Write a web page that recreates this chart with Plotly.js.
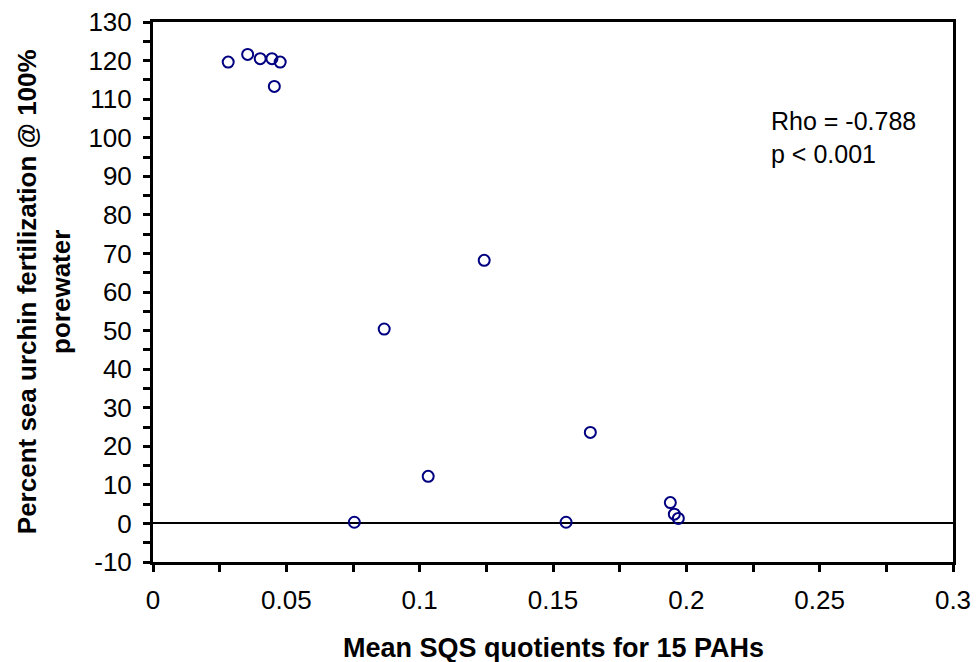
<!DOCTYPE html>
<html>
<head>
<meta charset="utf-8">
<script src="https://cdn.plot.ly/plotly-3.0.1.min.js"></script>
<style>html,body{margin:0;padding:0;background:#fff;}#chart{width:977px;height:662px;}</style>
</head>
<body>
<div id="chart"></div>
<script>
var sqsQuotient = [0.0282, 0.0355, 0.0402, 0.0446, 0.0477, 0.0455, 0.0867, 0.1242, 0.1032, 0.164, 0.0755, 0.1549, 0.194, 0.1955, 0.197];
var fertilization = [119.6, 121.6, 120.5, 120.5, 119.6, 113.3, 50.4, 68.2, 12.2, 23.6, 0.3, 0.3, 5.4, 2.4, 1.3];
var xTickVals = [0, 0.05, 0.1, 0.15, 0.2, 0.25, 0.3];
var xTickText = ["0", "0.05", "0.1", "0.15", "0.2", "0.25", "0.3"];
var yTickVals = [-10, 0, 10, 20, 30, 40, 50, 60, 70, 80, 90, 100, 110, 120, 130];
var yTickText = ["-10", "0", "10", "20", "30", "40", "50", "60", "70", "80", "90", "100", "110", "120", "130"];
var statsText = ["Rho = -0.788", "p < 0.001"];
var xTitle = "Mean SQS quotients for 15 PAHs";
var yTitle = ["Percent sea urchin fertilization @ 100%", "porewater"];

var font = "Arial, 'Liberation Sans', sans-serif";
var trace = {
  x: sqsQuotient, y: fertilization, type: 'scatter', mode: 'markers',
  marker: {symbol: 'circle-open', size: 11, color: '#000080', line: {width: 2, color: '#000080'}},
  hoverinfo: 'none', showlegend: false
};
var layout = {
  width: 977, height: 662,
  margin: {l: 153, r: 24, t: 22, b: 100},
  paper_bgcolor: '#fff', plot_bgcolor: '#fff',
  font: {family: font, color: '#000'},
  xaxis: {
    range: [0, 0.3], tickvals: xTickVals, ticktext: xTickText,
    showgrid: false, zeroline: false,
    showline: true, linecolor: '#000', linewidth: 3, mirror: true,
    ticks: 'outside', ticklen: 7, tickwidth: 3, tickcolor: '#000',
    minor: {dtick: 0.025, ticks: 'outside', ticklen: 7, tickwidth: 3, tickcolor: '#000', showgrid: false},
    tickfont: {size: 26, family: font}, ticklabelstandoff: 6
  },
  yaxis: {
    range: [-10, 130], tickvals: yTickVals, ticktext: yTickText,
    showgrid: false,
    zeroline: true, zerolinecolor: '#000', zerolinewidth: 2,
    showline: true, linecolor: '#000', linewidth: 3, mirror: true,
    ticks: 'outside', ticklen: 7, tickwidth: 3, tickcolor: '#000',
    minor: {dtick: 5, ticks: 'outside', ticklen: 7, tickwidth: 3, tickcolor: '#000', showgrid: false},
    tickfont: {size: 26, family: font}, ticklabelstandoff: 6
  },
  annotations: [{
    xref: 'paper', yref: 'paper', x: 0.7694, y: 0.786, xanchor: 'left', yanchor: 'middle',
    text: statsText.join('<br>'), showarrow: false, align: 'left',
    font: {size: 25, family: font, color: '#000'}
  }, {
    xref: 'paper', yref: 'paper', x: 0.5, y: -0.159, xanchor: 'center', yanchor: 'middle',
    text: '<b>' + xTitle + '</b>', showarrow: false,
    font: {size: 27, family: font, color: '#000'}
  }, {
    xref: 'paper', yref: 'paper', x: -0.136, y: 0.5, xanchor: 'center', yanchor: 'middle',
    text: '<b>' + yTitle.join('<br>') + '</b>', showarrow: false, textangle: -90,
    font: {size: 26, family: font, color: '#000'}
  }]
};
Plotly.newPlot('chart', [trace], layout, {displayModeBar: false, staticPlot: true});
</script>
</body>
</html>
